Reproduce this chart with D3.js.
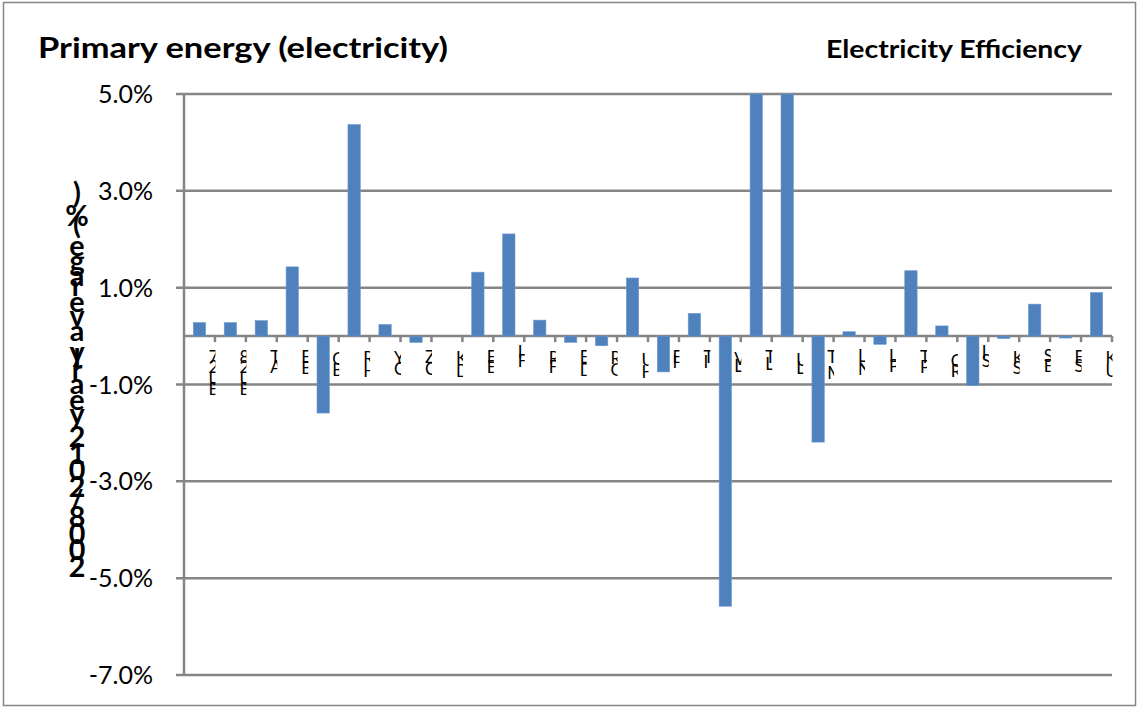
<!DOCTYPE html>
<html><head><meta charset="utf-8">
<script src="https://cdn.jsdelivr.net/npm/d3@7"></script>
<style>body{margin:0;background:#fff} svg{display:block}</style>
</head><body>
<svg id="c" width="1139" height="709"></svg>
<script>
const categories = ["EU27","EU28","AT","BE","BG","HR","CY","CZ","DK","EE","FI","FR","DE","GR","HU","IE","IT","LV","LT","LU","MT","NL","PL","PT","RO","SI","SK","ES","SE","UK"];
const values = [0.28,0.28,0.32,1.43,-1.59,4.37,0.24,-0.13,0.0,1.32,2.11,0.33,-0.13,-0.20,1.20,-0.74,0.47,-5.58,5.0,5.0,-2.19,0.09,-0.17,1.35,0.21,-1.02,-0.05,0.66,-0.04,0.90];
const yTicks = [5,3,1,-1,-3,-5,-7];
const titleText = "Primary energy (electricity)";
const subtitleText = "Electricity Efficiency";
const yTitleText = "2008/2012 yearly average (%)";

const FONT = "Lato, 'Open Sans', sans-serif";
const svg = d3.select("#c");
const plot = {left: 184, right: 1112, top: 94, bottom: 675};
const GRID = "#858585";

svg.append("rect").attr("x",3.5).attr("y",2.5).attr("width",1132).attr("height",703)
  .attr("fill","#fff").attr("stroke","#878787").attr("stroke-width",1.5);

const x = d3.scaleBand().domain(categories).range([plot.left, plot.right]).paddingInner(0.6).paddingOuter(0.3);
const y = d3.scaleLinear().domain([-7,5]).range([plot.bottom, plot.top]).clamp(true);
const step = x.step();

// gridlines
svg.append("g").selectAll("line").data(yTicks).join("line")
  .attr("x1", plot.left - 8).attr("x2", plot.right)
  .attr("y1", d=>y(d)).attr("y2", d=>y(d))
  .attr("stroke",GRID).attr("stroke-width",2.5);

// y axis line
svg.append("line").attr("x1",plot.left).attr("x2",plot.left).attr("y1",plot.top).attr("y2",plot.bottom)
  .attr("stroke",GRID).attr("stroke-width",2.5);

// y tick labels
svg.append("g").selectAll("text").data(yTicks).join("text")
  .attr("x",153).attr("y",d=>y(d)).attr("dy","0.36em").attr("text-anchor","end")
  .attr("font-family",FONT).attr("font-size",25).attr("fill","#000")
  .text(d=>d3.format(".1f")(d).replace("\u2212","-")+"%");

// x axis at zero
const xAxisG = svg.append("g");
xAxisG.append("line").attr("x1",plot.left).attr("x2",plot.right).attr("y1",y(0)).attr("y2",y(0))
  .attr("stroke",GRID).attr("stroke-width",2.5);
const boundaries = d3.range(1, categories.length+1).map(i => plot.left + i*step);
xAxisG.selectAll("line.t").data(boundaries).join("line").attr("class","t")
  .attr("x1",d=>d).attr("x2",d=>d).attr("y1",y(0)).attr("y2",y(0)+6)
  .attr("stroke",GRID).attr("stroke-width",2.5);

// measuring helper
const meas = svg.append("text").attr("font-family",FONT).attr("visibility","hidden");
function charPositions(str, size, weight){
  meas.attr("font-size",size).attr("font-weight",weight).text(str);
  const node = meas.node();
  const pos = [];
  for (let i=0;i<str.length;i++) pos.push(node.getStartPositionOfChar(i).x);
  const total = node.getComputedTextLength();
  const x0 = pos[0];
  return {pos: pos.map(p=>p-x0), total};
}

// category labels: rotated-text look with upright, stacked, clipped glyphs
const defs = svg.append("defs");
const labG = svg.append("g");
categories.forEach((c, i) => {
  const cx = x(c) + x.bandwidth()/2;
  const x0 = cx + 9;
  const fs = 17;
  const m = charPositions(c, fs, "normal");
  const yTop = 353;
  const id = "clip"+i;
  defs.append("clipPath").attr("id",id).append("rect")
    .attr("x", x0-1).attr("y", 340).attr("width", 8).attr("height", 90);
  const g = labG.append("g").attr("clip-path",`url(#${id})`);
  for (let k=0;k<c.length;k++){
    g.append("text").attr("x",x0).attr("y", yTop + m.total - m.pos[k])
      .attr("font-family",FONT).attr("font-size",fs).attr("fill","#000").text(c[k]);
  }
});

// bars
svg.append("g").selectAll("rect").data(categories).join("rect")
  .attr("x", d=>x(d)).attr("width", x.bandwidth())
  .attr("y", (d,i)=>Math.min(y(values[i]), y(0)))
  .attr("height", (d,i)=>Math.abs(y(values[i]) - y(0)))
  .attr("fill","#4f81bd").attr("stroke","#6f9bd0").attr("stroke-width",0.6);

// titles
svg.append("text").attr("x",38).attr("y",58).attr("font-family",FONT).attr("font-weight","bold")
  .attr("font-size",29).attr("textLength",410).attr("lengthAdjust","spacingAndGlyphs").text(titleText);
svg.append("text").attr("x",826).attr("y",58).attr("font-family",FONT).attr("font-weight","bold")
  .attr("font-size",24).attr("textLength",256).attr("lengthAdjust","spacingAndGlyphs").text(subtitleText);

// y axis title: stacked upright glyphs, reading bottom-up
(function(){
  const unit = charPositions(yTitleText, 100, "bold");
  const last = yTitleText.length-1;
  const fs = 396 / (unit.pos[last]/100 + 0.75);
  const m = charPositions(yTitleText, fs, "bold");
  const yb = 577;
  const g = svg.append("g");
  for (let k=0;k<yTitleText.length;k++){
    if (yTitleText[k]===" ") continue;
    g.append("text").attr("x",77).attr("y", yb - m.pos[k]).attr("text-anchor","middle")
      .attr("font-family",FONT).attr("font-weight","bold").attr("font-size",fs).attr("fill","#000")
      .text(yTitleText[k]);
  }
})();
meas.remove();
</script>
</body></html>
